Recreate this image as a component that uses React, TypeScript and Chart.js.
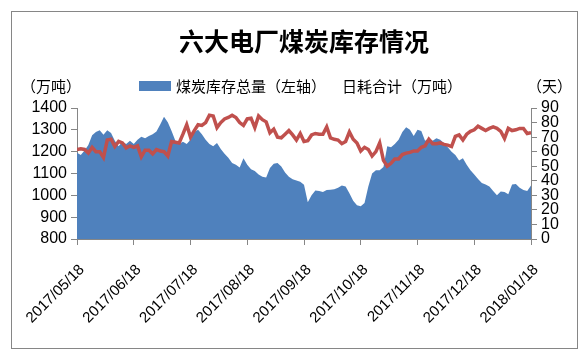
import React, { useEffect, useRef } from 'react';
import { Chart, registerables } from 'chart.js';

Chart.register(...registerables);

const chartTitle = '六大电厂煤炭库存情况';
const leftUnit = '（万吨）';
const rightUnit = '（天）';
const stockLabel = '煤炭库存总量（左轴）';
const dailyLabel = '日耗合计（万吨）';

const monthLabels = [
  '2017/05/18', '2017/06/18', '2017/07/18', '2017/08/18', '2017/09/18',
  '2017/10/18', '2017/11/18', '2017/12/18', '2018/01/18',
];
const pointsPerMonth = 15;

const leftRange = [800, 1400];
const leftStep = 100;
const rightRange = [0, 90];
const rightStep = 10;

// 煤炭库存总量 (万吨), left axis
const stockValues = [
  1195, 1185, 1205, 1230, 1275, 1290, 1298, 1278, 1298, 1285,
  1250, 1225, 1245, 1235, 1250, 1235, 1255, 1268, 1262, 1272,
  1280, 1292, 1325, 1360, 1335, 1295, 1250, 1235, 1245, 1235,
  1255, 1290, 1300, 1280, 1255, 1235, 1225, 1240, 1212, 1190,
  1172, 1148, 1140, 1128, 1170, 1140, 1120, 1112, 1095, 1085,
  1082, 1125, 1145, 1148, 1132, 1105, 1085, 1074, 1068, 1062,
  1048, 968, 1000, 1022, 1020, 1015, 1025, 1026, 1028, 1035,
  1045, 1040, 1010, 975, 955, 950, 965, 1040, 1100, 1115,
  1115, 1130, 1225, 1220, 1235, 1255, 1290, 1312, 1300, 1272,
  1300, 1295, 1250, 1262, 1250, 1262, 1255, 1238, 1220, 1200,
  1185, 1160, 1170, 1140, 1115, 1095, 1075, 1056, 1050, 1040,
  1020, 1000, 1018, 1015, 1005, 1050, 1052, 1035, 1025, 1020,
  1045,
];

// 日耗合计, right axis (天)
const dailyValues = [
  61.5, 62, 61.5, 59, 63, 60, 60, 56, 68, 68.5,
  63.5, 67, 66, 62.5, 64, 63, 64, 56.5, 61, 61,
  58.5, 61.5, 60.5, 60, 57, 67, 66.5, 66, 72, 78.5,
  70, 74.5, 78.5, 78, 80, 85, 84.5, 76.5, 80, 82.5,
  83.5, 85, 83.5, 80, 78, 82.5, 83, 76.5, 84.5, 82,
  80.5, 73, 75.5, 70, 69.5, 72, 74.5, 71.5, 68, 72.5,
  67, 67.5, 71.5, 72.5, 72, 72, 77, 69.5, 68.5, 68,
  65.5, 67, 73.5, 68.5, 66, 60.5, 63, 61.5, 57, 60,
  66, 54, 50, 52, 55, 55, 58, 59, 59.5, 60.5,
  60.5, 63, 64, 68.5, 65.5, 65.5, 66, 65, 64.5, 63.5,
  70.5, 71.5, 68, 72, 74, 75, 77.5, 76, 74.5, 76,
  77, 76, 74, 69, 76, 74.5, 75, 76, 76, 72.5,
  73,
];

const BLUE = '#4F81BD';
const RED = '#C0504D';
const AXIS = '#868686';
const TEXT = '#000000';
const NUM_FONT = '"Liberation Sans", Arial, sans-serif';
const CJK_FONT = '"Noto Sans CJK SC", "Noto Sans", sans-serif';

const decorPlugin = {
  id: 'decor',
  beforeDraw(chart: any) {
    const ctx = chart.ctx;
    ctx.save();
    ctx.fillStyle = '#ffffff';
    ctx.fillRect(0, 0, chart.width, chart.height);
    ctx.strokeStyle = AXIS;
    ctx.lineWidth = 1;
    ctx.strokeRect(11.5, 11.5, 566, 337);
    ctx.restore();
  },
  afterDraw(chart: any) {
    const ctx = chart.ctx;
    ctx.save();
    ctx.fillStyle = TEXT;
    ctx.textBaseline = 'middle';
    ctx.textAlign = 'center';
    ctx.font = `bold 25px ${CJK_FONT}`;
    ctx.fillText(chartTitle, 304, 41);

    ctx.font = `15px ${CJK_FONT}`;
    ctx.textAlign = 'left';
    ctx.fillText(leftUnit, 21, 86);
    ctx.fillText(rightUnit, 527, 86);

    ctx.fillStyle = BLUE;
    ctx.fillRect(139, 81, 32, 10);
    ctx.fillStyle = TEXT;
    ctx.fillText(stockLabel, 176, 86);
    ctx.fillText(dailyLabel, 342, 86);
    ctx.restore();
  },
};

export default function App() {
  const canvasRef = useRef<HTMLCanvasElement | null>(null);

  useEffect(() => {
    const canvas = canvasRef.current;
    if (!canvas) return;
    const stockPoints = stockValues.map((v, i) => ({ x: i, y: v }));
    const dailyPoints = dailyValues.map((v, i) => ({ x: i, y: v }));
    const xMax = (monthLabels.length - 1) * pointsPerMonth;

    const chart = new Chart(canvas, {
      type: 'line',
      data: {
        datasets: [
          {
            label: dailyLabel,
            data: dailyPoints,
            yAxisID: 'y1',
            borderColor: RED,
            borderWidth: 3.5,
            pointRadius: 0,
            fill: false,
            tension: 0,
            order: 1,
          },
          {
            label: stockLabel,
            data: stockPoints,
            yAxisID: 'y',
            borderColor: BLUE,
            backgroundColor: BLUE,
            borderWidth: 0,
            pointRadius: 0,
            fill: 'start',
            tension: 0,
            order: 2,
          },
        ],
      },
      options: {
        responsive: false,
        animation: false,
        layout: { padding: { top: 108, left: 0, right: 0, bottom: 0 } },
        plugins: {
          legend: { display: false },
          title: { display: false },
          tooltip: { enabled: false },
        },
        scales: {
          x: {
            type: 'linear',
            min: 0,
            max: xMax,
            afterFit(scale: any) { scale.height = 113; },
            border: { display: true, color: AXIS, width: 1 },
            grid: { drawOnChartArea: false, color: AXIS, tickLength: 6 },
            ticks: {
              stepSize: pointsPerMonth,
              autoSkip: false,
              maxRotation: 45,
              minRotation: 45,
              padding: 16,
              labelOffset: 5,
              color: TEXT,
              font: { family: NUM_FONT, size: 15 },
              callback: (v: any) => monthLabels[Math.round(Number(v) / pointsPerMonth)] ?? '',
            },
          },
          y: {
            type: 'linear',
            position: 'left',
            min: leftRange[0],
            max: leftRange[1],
            afterFit(scale: any) { scale.width = 77; },
            border: { display: true, color: AXIS, width: 1 },
            grid: { drawOnChartArea: false, color: AXIS, tickLength: 6 },
            ticks: {
              stepSize: leftStep,
              autoSkip: false,
              padding: 4,
              color: TEXT,
              font: { family: NUM_FONT, size: 16 },
              callback: (v: any) => String(v),
            },
          },
          y1: {
            type: 'linear',
            position: 'right',
            min: rightRange[0],
            max: rightRange[1],
            afterFit(scale: any) { scale.width = 57; },
            border: { display: true, color: AXIS, width: 1 },
            grid: { drawOnChartArea: false, color: AXIS, tickLength: 6 },
            ticks: {
              stepSize: rightStep,
              autoSkip: false,
              padding: 4,
              color: TEXT,
              font: { family: NUM_FONT, size: 16 },
              callback: (v: any) => String(v),
            },
          },
        },
      },
      plugins: [decorPlugin],
    });
    return () => chart.destroy();
  }, []);

  return (
    <canvas
      ref={canvasRef}
      width={588}
      height={352}
      style={{ position: 'absolute', left: 0, top: 0, width: 588, height: 352, display: 'block' }}
    />
  );
}
